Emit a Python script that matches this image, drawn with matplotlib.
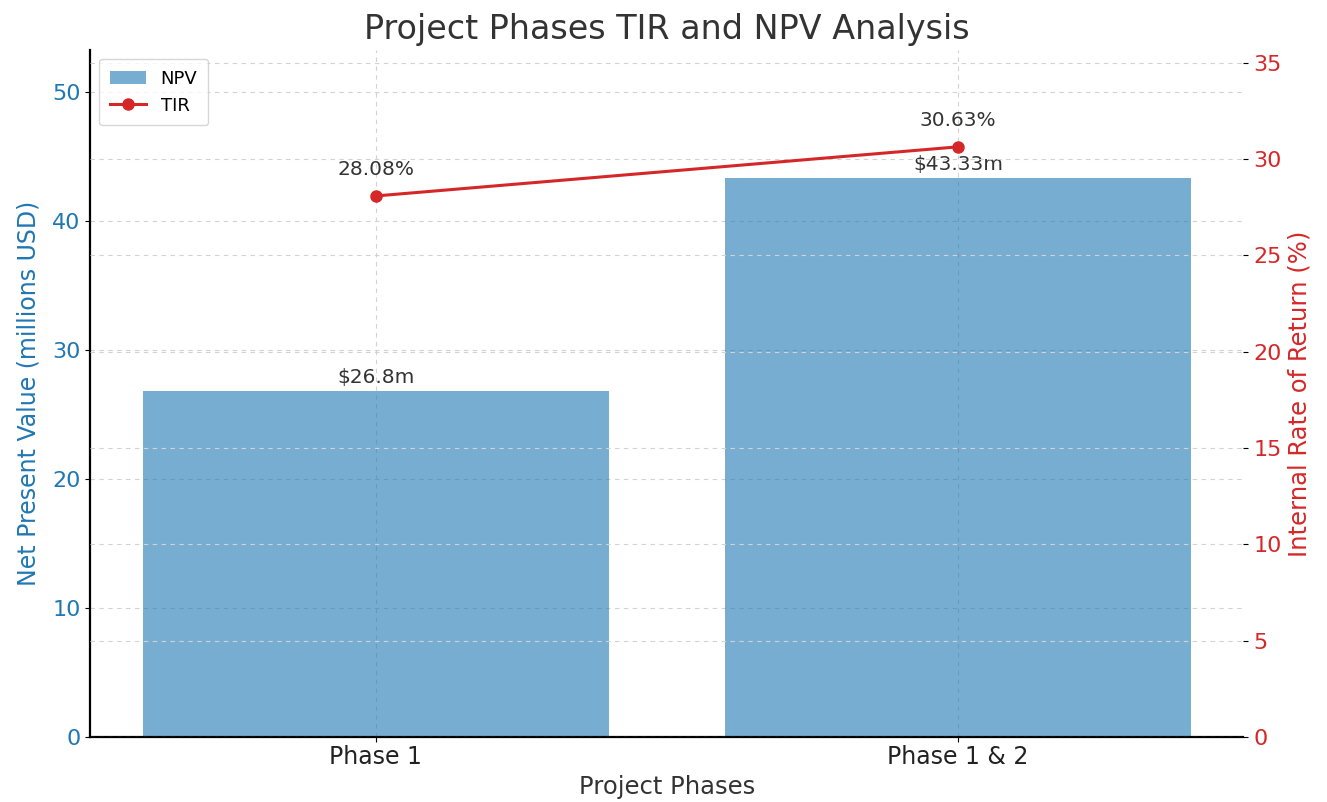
import matplotlib
matplotlib.use("Agg")
import matplotlib.pyplot as plt

phases = ["Phase 1", "Phase 1 & 2"]
npv = [26.8, 43.33]
tir = [28.08, 30.63]
npv_labels = ["$26.8m", "$43.33m"]
tir_labels = ["28.08%", "30.63%"]

grid_kw = dict(linestyle=(0, (4, 4)), color="#d2d2d2", linewidth=0.8)

fig = plt.figure(figsize=(13.27, 8.02), dpi=100)
ax1 = fig.add_axes([0.068, 0.081, 0.869, 0.857])
x = list(range(len(phases)))
ax1.bar(x, npv, width=0.8, color="tab:blue", alpha=0.6, label="NPV")
ax1.set_ylim(0, 53.3)
ax1.set_ylabel("Net Present Value (millions USD)", color="tab:blue", fontsize=17, labelpad=8)
ax1.set_xlabel("Project Phases", fontsize=17.5, color="#333333", labelpad=4)
ax1.set_xticks(x)
ax1.set_xticklabels(phases, fontsize=17, color="#222222")
ax1.tick_params(axis="x", pad=2.5)
ax1.tick_params(axis="y", labelcolor="tab:blue", labelsize=16)
ax1.grid(True, **grid_kw)
ax1.set_axisbelow(True)
for s in ["top", "right"]:
    ax1.spines[s].set_visible(False)
ax1.spines["left"].set_linewidth(1.6)
ax1.spines["bottom"].set_linewidth(1.6)
for xi, v, lab in zip(x, npv, npv_labels):
    ax1.annotate(lab, (xi, v), xytext=(0, 3), textcoords="offset points",
                 ha="center", va="bottom", fontsize=14.5, color="#333333")

ax2 = ax1.twinx()
ax2.plot(x, tir, color="tab:red", marker="o", linewidth=2.2, markersize=8, label="TIR")
ax2.set_ylim(0, 35.67)
ax2.set_yticks([0, 5, 10, 15, 20, 25, 30, 35])
ax2.set_ylabel("Internal Rate of Return (%)", color="tab:red", fontsize=17.5)
ax2.tick_params(axis="y", labelcolor="tab:red", labelsize=16)
ax2.grid(True, axis="y", **grid_kw)
for s in ["top", "right", "left", "bottom"]:
    ax2.spines[s].set_visible(False)
for xi, v, lab in zip(x, tir, tir_labels):
    ax2.annotate(lab, (xi, v), xytext=(0, 12), textcoords="offset points",
                 ha="center", va="bottom", fontsize=14.5, color="#333333")

ax1.set_title("Project Phases TIR and NPV Analysis", fontsize=24, color="#333333", pad=8)
h1, l1 = ax1.get_legend_handles_labels()
h2, l2 = ax2.get_legend_handles_labels()
ax2.legend(h1 + h2, l1 + l2, loc="upper left", fontsize=13, borderpad=0.6)

fig.savefig("out.png", dpi=100)
